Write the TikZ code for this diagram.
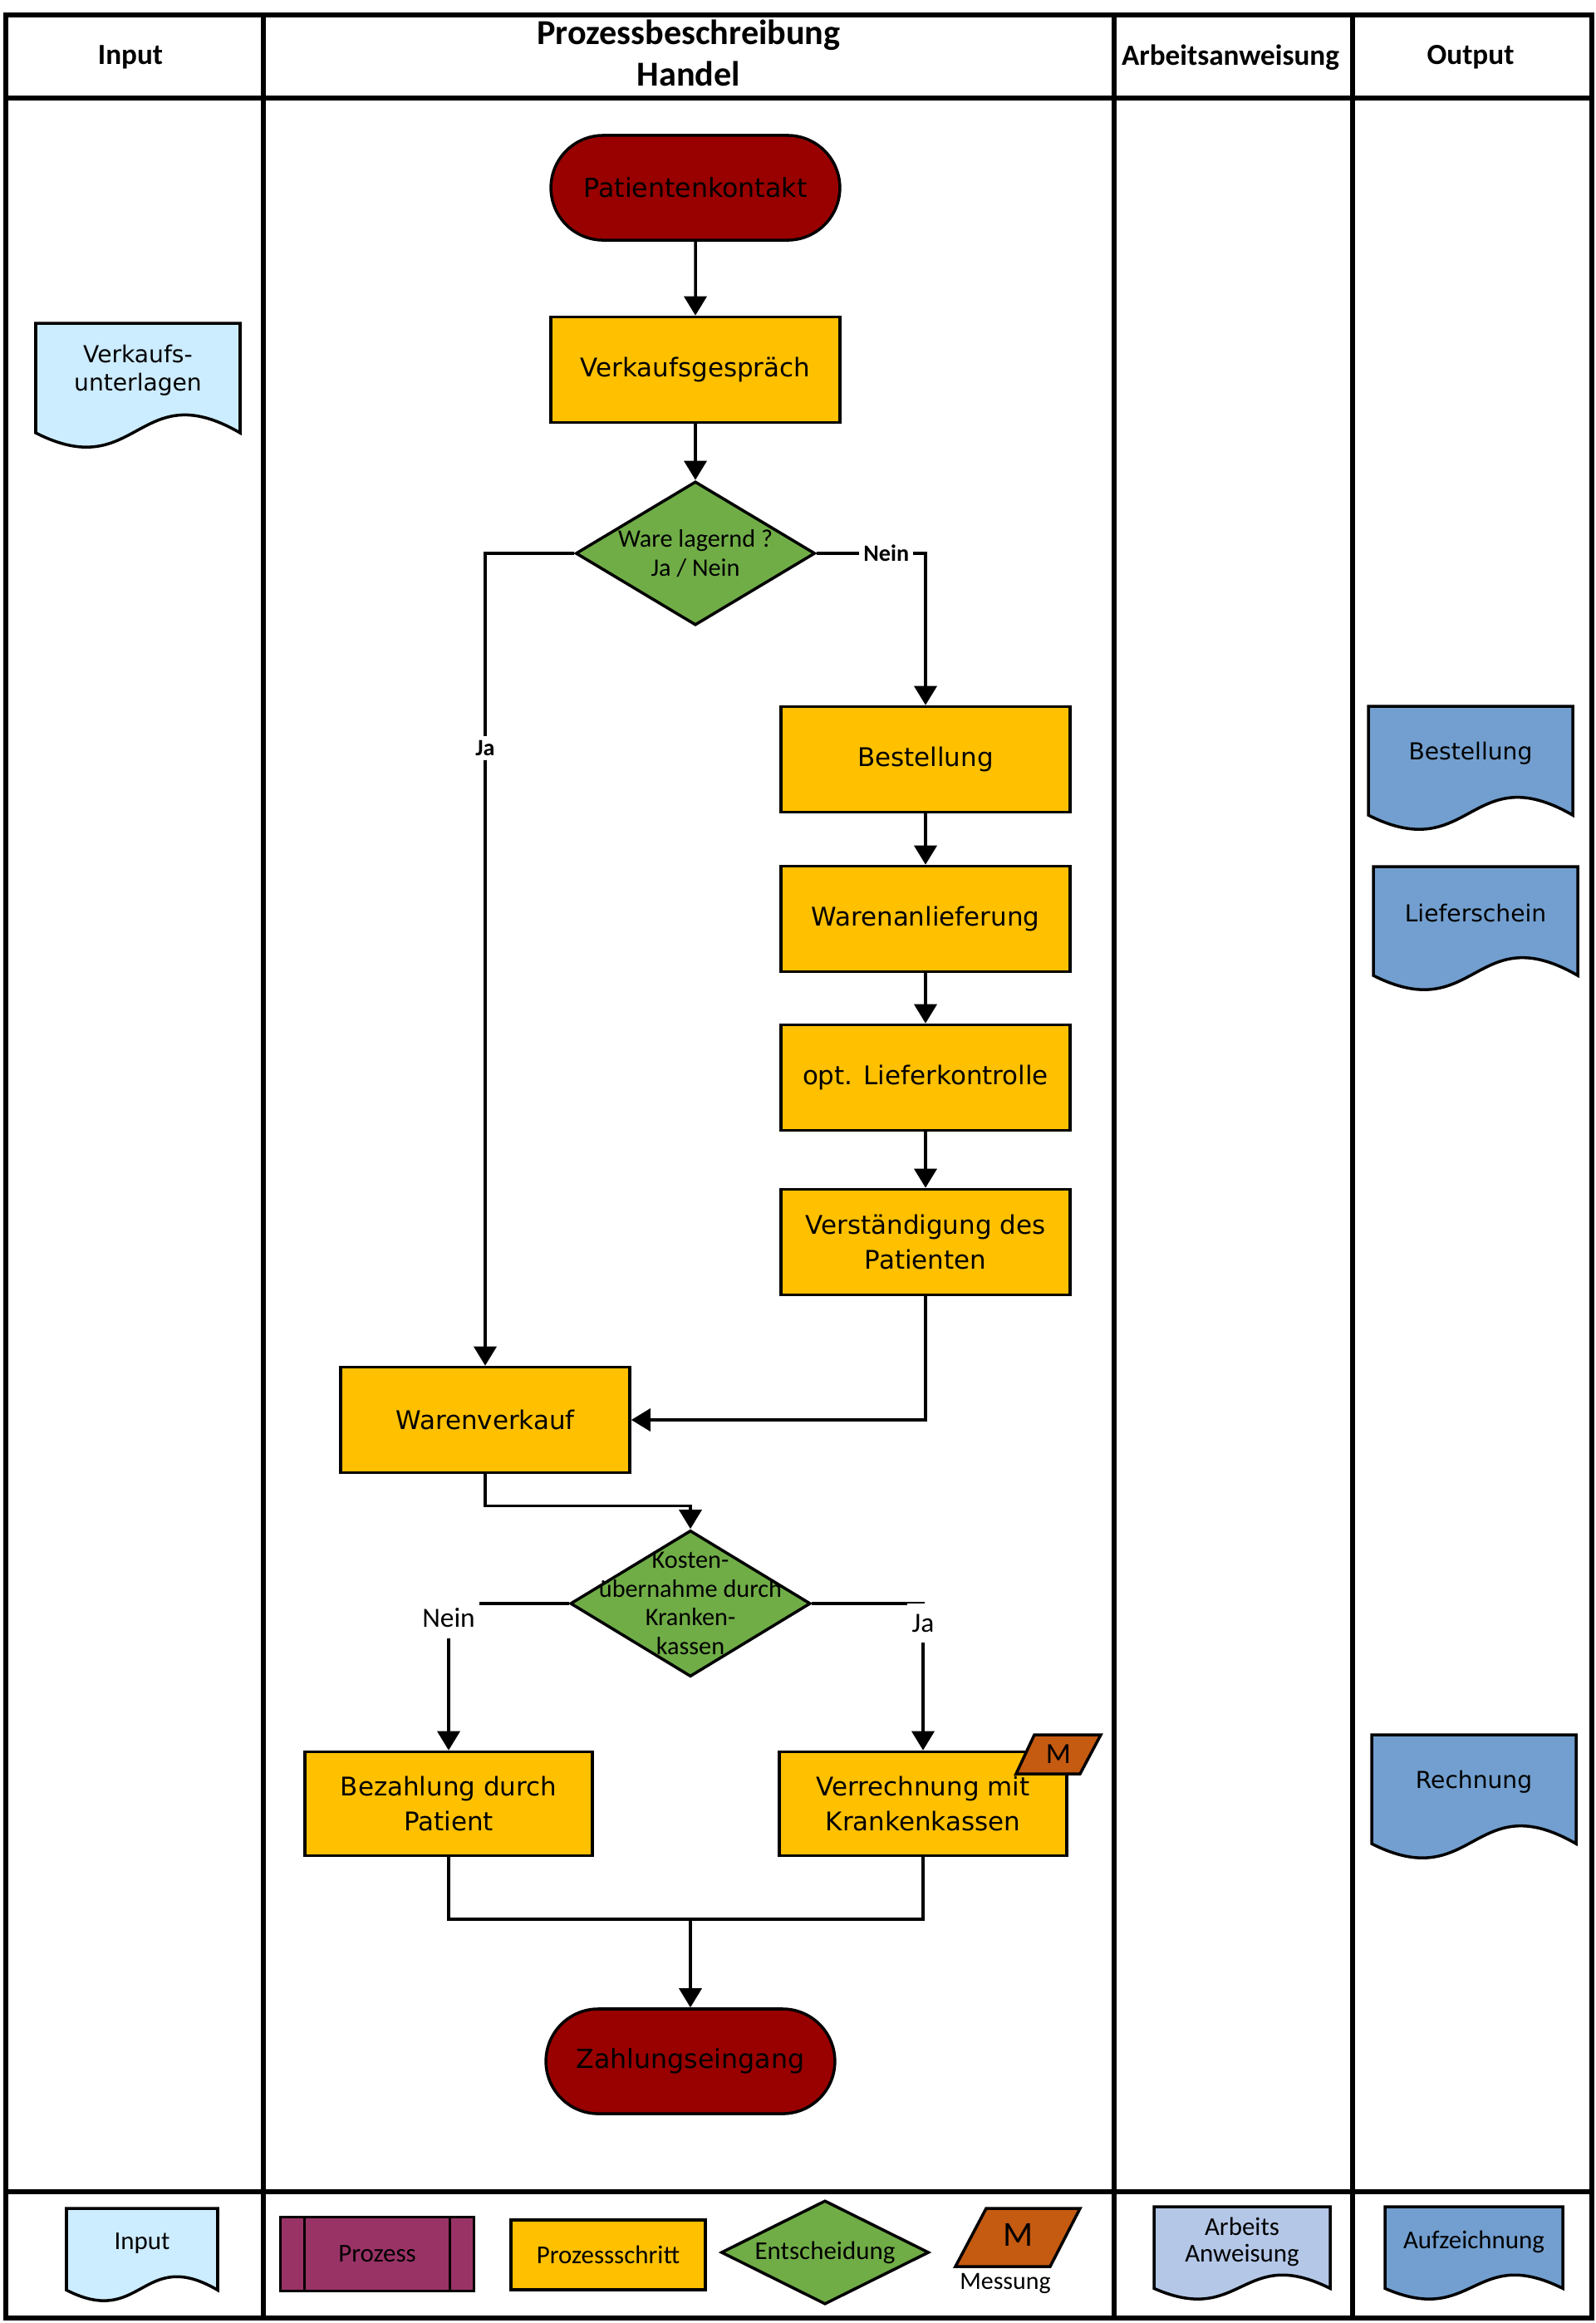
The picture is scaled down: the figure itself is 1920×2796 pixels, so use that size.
\documentclass[tikz,border=0pt]{standalone}
\usepackage{fontspec}
\setmainfont{DejaVu Sans}
\newfontfamily\calibri{Carlito}
\usepackage{tikz}
\usetikzlibrary{calc,arrows.meta,shapes.geometric,shapes.misc}
\definecolor{StartRot}{RGB}{153, 0, 0}
\definecolor{SchrittGelb}{RGB}{255, 192, 0}
\definecolor{FrageGruen}{RGB}{112, 173, 71}
\definecolor{MessOrange}{RGB}{197, 90, 17}
\definecolor{InputBlau}{RGB}{204, 236, 255}
\definecolor{OutputBlau}{RGB}{114, 159, 207}
\definecolor{AnweisungBlau}{RGB}{180, 199, 231}
\definecolor{ProzessLila}{RGB}{153, 51, 102}

\tikzset{
  rahmen/.style={line width=1.5pt},
  schritt/.style={draw, line width=1pt, fill=SchrittGelb, minimum width=3.48cm, minimum height=1.27cm,
    align=center, font=\fontsize{8.8}{11.7}\selectfont},
  terminal/.style={rounded rectangle, draw, line width=1pt, fill=StartRot, minimum width=3.71cm,
    minimum height=1.26cm, font=\fontsize{9}{11}\selectfont},
  frage/.style={diamond, draw, line width=1pt, fill=FrageGruen, inner sep=0pt},
  fragetext/.style={align=center, font=\calibri\fontsize{8.6}{9.8}\selectfont},
  flow/.style={line width=1pt, -{Triangle[width=0.27cm,length=0.23cm]}},
  verbinder/.style={line width=1pt},
  lab/.style={fill=white, inner sep=1.5pt, font=\calibri\bfseries\fontsize{8}{9}\selectfont},
  labgross/.style={fill=white, inner sep=1.5pt, text height=1.5ex, text depth=0.4ex,
    font=\calibri\fontsize{9.5}{10}\selectfont},
  kopf/.style={font=\calibri\bfseries\fontsize{10}{12}\selectfont},
  doctext/.style={align=center, font=\fontsize{8}{9.6}\selectfont},
  legtext/.style={align=center, font=\calibri\fontsize{8.8}{9.2}\selectfont},
}

% Dokument-Symbol: [Textstil]{Name}{x1}{y1}{x2}{y2}{Farbe}{Text}
\newcommand{\dokform}[8][doctext]{%
  \filldraw[line width=1pt, fill=#7] (#3,#4) -- (#5,#4) -- (#5,{#4+0.886*(#6-#4)})
    .. controls ({(#3+#5)/2},{#4+0.406*(#6-#4)}) and ({(#3+#5)/2},{#4+1.306*(#6-#4)}) .. (#3,{#4+0.886*(#6-#4)}) -- cycle;
  \node[#1] (#2) at ({(#3+#5)/2},{#4+0.38*(#6-#4)}) {#8};
}

\begin{document}
\begin{tikzpicture}[x=0.01cm, y=-0.01cm]
    \useasboundingbox (0,0) rectangle (1920,2796);

    % Tabelle
    \draw[rahmen] (7,18) rectangle (1916,2790);
    \foreach \x in {317,1341,1628} {
        \draw[rahmen] (\x,18) -- (\x,2790);
    }
    \foreach \y in {118,2638} {
        \draw[rahmen] (7,\y) -- (1916,\y);
    }
    \node[kopf] (hInput) at (157,69) {Input};
    \node[align=center, font=\calibri\bfseries\fontsize{12}{14.2}\selectfont] (hProzess) at (829,64) {Prozessbeschreibung\\Handel};
    \node[kopf] (hAnweisung) at (1481,69) {Arbeitsanweisung};
    \node[kopf] (hOutput) at (1770,69) {Output};

    % Ablauf
    \node[terminal] (kontakt) at (837,226) {Patientenkontakt};
    \node[schritt] (gespraech) at (837,445) {Verkaufsgespräch};
    \node[frage, minimum width=2.88cm, minimum height=1.73cm,
        label={[fragetext]center:Ware lagernd ?\\Ja / Nein}] (lager) at (837,666) {};
    \node[schritt] (bestellung) at (1114,914) {Bestellung};
    \node[schritt] (anlieferung) at (1114,1106) {Warenanlieferung};
    \node[schritt] (kontrolle) at (1114,1297) {opt. Lieferkontrolle};
    \node[schritt] (verst) at (1114,1495) {Verständigung des\\Patienten};
    \node[schritt] (verkauf) at (584,1709) {Warenverkauf};
    \node[frage, minimum width=2.89cm, minimum height=1.76cm,
        label={[fragetext]center:Kosten-\\übernahme durch\\Kranken-\\kassen}] (kosten) at (831,1930) {};
    \node[schritt, minimum width=3.46cm, minimum height=1.25cm] (bezahl) at (540,2171) {Bezahlung durch\\Patient};
    \node[schritt, minimum width=3.46cm, minimum height=1.25cm] (verrech) at (1111,2171) {Verrechnung mit\\Krankenkassen};
    \node[terminal] (zahlung) at (831,2481) {Zahlungseingang};
    \coordinate (sammel) at (831,2310);

    \draw[flow] (kontakt) -- (gespraech);
    \draw[flow] (gespraech) -- (lager);
    \draw[flow] (lager.west) -| (verkauf.north) node[lab, pos=0.62] {Ja};
    \draw[flow] (lager.east) -| (bestellung.north) node[lab, pos=0.32] {Nein};
    \draw[flow] (bestellung) -- (anlieferung);
    \draw[flow] (anlieferung) -- (kontrolle);
    \draw[flow] (kontrolle) -- (verst);
    \draw[flow] (verst.south) |- (verkauf.east);
    \draw[flow] (verkauf.south) -- ++(0,38) -| (kosten.north);
    \draw[flow] (kosten.west) -| (bezahl.north) node[labgross, pos=0.5, anchor=north, yshift=2pt] {Nein};
    \draw[flow] (kosten.east) -| (verrech.north) node[labgross, pos=0.5, anchor=north, yshift=0.5pt] {Ja};
    \draw[verbinder] (bezahl.south) |- (sammel) -| (verrech.south);
    \draw[flow] (sammel) -- (zahlung.north);

    % Messpunkt
    \filldraw[line width=1pt, fill=MessOrange] (1245,2088) -- (1325,2088) -- (1300,2135) -- (1223,2135) -- cycle;
    \node[font=\calibri\fontsize{10}{10}\selectfont] (messM) at (1274,2111) {M};

    % Input / Output
    \dokform{inVerkauf}{43}{389}{289}{538}{InputBlau}{Verkaufs-\\unterlagen}
    \dokform{outBestellung}{1647}{850}{1893}{998}{OutputBlau}{Bestellung}
    \dokform{outLieferschein}{1653}{1043}{1899}{1191}{OutputBlau}{Lieferschein}
    \dokform{outRechnung}{1651}{2088}{1897}{2236}{OutputBlau}{Rechnung}

    % Legende
    \dokform[legtext]{lgInput}{80}{2658}{262}{2769}{InputBlau}{Input}
    \node[draw, line width=1pt, fill=ProzessLila, minimum width=2.33cm, minimum height=0.89cm, legtext] (lgProzess) at (454,2713) {Prozess};
    \draw[line width=1pt] ($(lgProzess.north west)+(31,0)$) -- ($(lgProzess.south west)+(31,0)$);
    \draw[line width=1pt] ($(lgProzess.north east)+(-31,0)$) -- ($(lgProzess.south east)+(-31,0)$);
    \node[schritt, minimum width=2.34cm, minimum height=0.84cm, legtext] (lgSchritt) at (732,2714) {Prozessschritt};
    \node[frage, minimum width=2.5cm, minimum height=1.25cm, label={[legtext]center:Entscheidung}] (lgFrage) at (993,2711) {};
    \filldraw[line width=1pt, fill=MessOrange] (1187,2658) -- (1300,2658) -- (1264,2728) -- (1150,2728) -- cycle;
    \node[font=\calibri\fontsize{12}{12}\selectfont] (lgM) at (1226,2690) {M};
    \node[legtext, font=\calibri\fontsize{8.5}{9}\selectfont] (lgMessung) at (1210,2748) {Messung};
    \dokform[legtext]{lgAnweisung}{1389}{2656}{1601}{2767}{AnweisungBlau}{Arbeits\\Anweisung}
    \dokform[legtext]{lgAufzeichnung}{1667}{2656}{1881}{2767}{OutputBlau}{Aufzeichnung}
\end{tikzpicture}
\end{document}
